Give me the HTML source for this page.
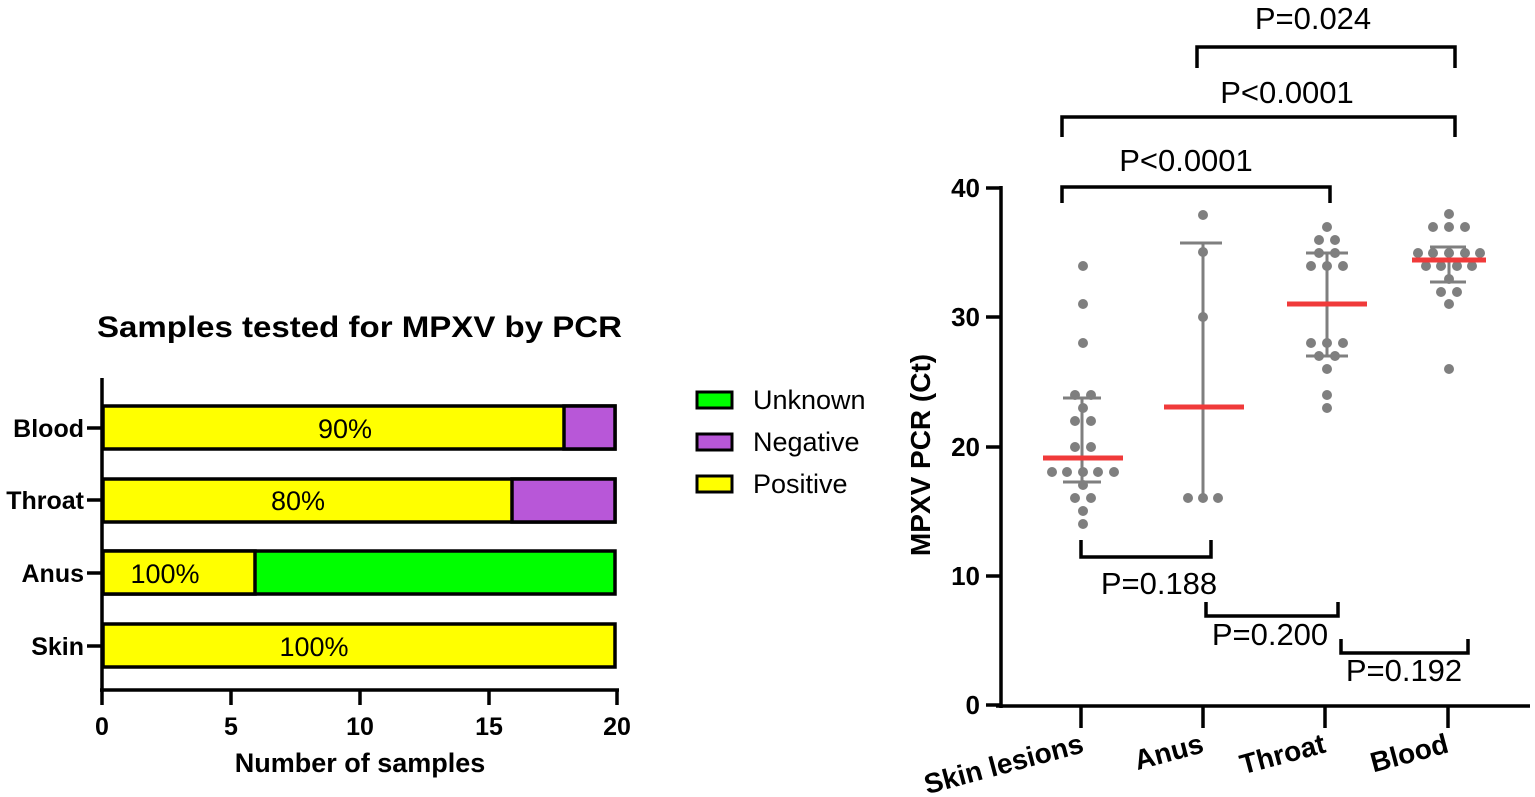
<!DOCTYPE html>
<html><head><meta charset="utf-8"><style>body{margin:0;background:#fff}svg{display:block}</style></head><body>
<svg width="1535" height="797" viewBox="0 0 1535 797" font-family="Liberation Sans, Arial, sans-serif">
<!-- Left chart -->
<text x="97" y="337" font-size="30" font-weight="bold" textLength="525" lengthAdjust="spacingAndGlyphs">Samples tested for MPXV by PCR</text>
<g stroke="#000" stroke-width="3.5">
<rect x="103" y="406" width="512" height="43" fill="#ffff00"/>
<rect x="564" y="406" width="51" height="43" fill="#b857d8"/>
<rect x="103" y="479" width="512" height="43" fill="#ffff00"/>
<rect x="512" y="479" width="103" height="43" fill="#b857d8"/>
<rect x="103" y="551" width="512" height="43" fill="#00ff00"/>
<rect x="103" y="551" width="152" height="43" fill="#ffff00"/>
<rect x="103" y="624" width="512" height="43" fill="#ffff00"/>
<line x1="102" y1="378" x2="102" y2="692"/>
<line x1="100" y1="690" x2="619" y2="690"/>
<line x1="102" y1="690" x2="102" y2="705"/><line x1="231" y1="690" x2="231" y2="705"/><line x1="360" y1="690" x2="360" y2="705"/><line x1="489" y1="690" x2="489" y2="705"/><line x1="617" y1="690" x2="617" y2="705"/>
<line x1="87" y1="428" x2="102" y2="428"/><line x1="87" y1="500" x2="102" y2="500"/><line x1="87" y1="573" x2="102" y2="573"/><line x1="87" y1="646" x2="102" y2="646"/>
</g>
<g font-size="25" font-weight="bold" text-anchor="end">
<text x="84" y="437">Blood</text><text x="84" y="509">Throat</text><text x="84" y="582">Anus</text><text x="84" y="655">Skin</text>
</g>
<g font-size="27" text-anchor="middle">
<text x="345" y="438">90%</text><text x="298" y="510">80%</text><text x="165" y="583">100%</text><text x="314" y="656">100%</text>
</g>
<g font-size="25" font-weight="bold" text-anchor="middle">
<text x="102" y="735">0</text><text x="231" y="735">5</text><text x="360" y="735">10</text><text x="489" y="735">15</text><text x="617" y="735">20</text>
<text x="360" y="772" font-size="27">Number of samples</text>
</g>
<g stroke="#000" stroke-width="3">
<rect x="697" y="392" width="35" height="16" fill="#00ff00"/>
<rect x="697" y="434" width="35" height="16" fill="#b857d8"/>
<rect x="697" y="476" width="35" height="16" fill="#ffff00"/>
</g>
<g font-size="27"><text x="753" y="409">Unknown</text><text x="753" y="451">Negative</text><text x="753" y="493">Positive</text></g>

<!-- Right chart -->
<g stroke="#000" stroke-width="3.5" fill="none">
<line x1="1001" y1="186" x2="1001" y2="708"/>
<line x1="996" y1="706" x2="1530" y2="706"/>
<line x1="986" y1="188" x2="1001" y2="188"/><line x1="986" y1="317" x2="1001" y2="317"/><line x1="986" y1="447" x2="1001" y2="447"/><line x1="986" y1="576" x2="1001" y2="576"/><line x1="986" y1="705" x2="1001" y2="705"/>
<line x1="1081" y1="706" x2="1081" y2="728"/><line x1="1203" y1="706" x2="1203" y2="728"/><line x1="1325" y1="706" x2="1325" y2="728"/><line x1="1448" y1="706" x2="1448" y2="728"/>
<polyline points="1197,68 1197,47 1455,47 1455,68"/>
<polyline points="1062,137 1062,117 1455,117 1455,137"/>
<polyline points="1062,203 1062,187 1330,187 1330,203"/>
<polyline points="1081,540 1081,557 1211,557 1211,540"/>
<polyline points="1206,602 1206,616 1338,616 1338,602"/>
<polyline points="1341,639 1341,653 1468,653 1468,639"/>
</g>
<g font-size="31" text-anchor="middle">
<text x="1313" y="29">P=0.024</text><text x="1287" y="103">P&lt;0.0001</text><text x="1186" y="171">P&lt;0.0001</text>
<text x="1159" y="594">P=0.188</text><text x="1270" y="645">P=0.200</text><text x="1404" y="681">P=0.192</text>
</g>
<g font-size="26" font-weight="bold" text-anchor="end">
<text x="980" y="197">40</text><text x="980" y="326">30</text><text x="980" y="456">20</text><text x="980" y="585">10</text><text x="980" y="714">0</text>
</g>
<text transform="translate(930,455) rotate(-90)" font-size="28" font-weight="bold" text-anchor="middle">MPXV PCR (Ct)</text>
<g font-size="28" font-weight="bold" text-anchor="end">
<text transform="translate(1085,752) rotate(-15)">Skin lesions</text>
<text transform="translate(1205,752) rotate(-15)">Anus</text>
<text transform="translate(1327,752) rotate(-15)">Throat</text>
<text transform="translate(1450,752) rotate(-15)">Blood</text>
</g>
<!-- error bars -->
<g stroke="#7f7f7f" stroke-width="3">
<line x1="1082" y1="398" x2="1082" y2="482"/><line x1="1063" y1="398" x2="1101" y2="398"/><line x1="1063" y1="482" x2="1101" y2="482"/>
<line x1="1203" y1="243" x2="1203" y2="498"/><line x1="1180" y1="243" x2="1222" y2="243"/>
<line x1="1327" y1="253" x2="1327" y2="356"/><line x1="1306" y1="253" x2="1348" y2="253"/><line x1="1306" y1="356" x2="1348" y2="356"/>
<line x1="1449" y1="247" x2="1449" y2="282"/><line x1="1430" y1="247" x2="1466" y2="247"/><line x1="1430" y1="282" x2="1466" y2="282"/>
</g>
<g fill="#7f7f7f">
<circle cx="1083" cy="266" r="5"/><circle cx="1083" cy="304" r="5"/><circle cx="1083" cy="343" r="5"/>
<circle cx="1075" cy="395" r="5"/><circle cx="1091" cy="395" r="5"/><circle cx="1083" cy="408" r="5"/>
<circle cx="1075" cy="421" r="5"/><circle cx="1091" cy="421" r="5"/><circle cx="1075" cy="447" r="5"/><circle cx="1091" cy="447" r="5"/>
<circle cx="1052" cy="472" r="5"/><circle cx="1067" cy="472" r="5"/><circle cx="1083" cy="472" r="5"/><circle cx="1098" cy="472" r="5"/><circle cx="1114" cy="472" r="5"/>
<circle cx="1083" cy="485" r="5"/><circle cx="1075" cy="498" r="5"/><circle cx="1091" cy="498" r="5"/><circle cx="1083" cy="511" r="5"/><circle cx="1083" cy="524" r="5"/>
<circle cx="1203" cy="215" r="5"/><circle cx="1203" cy="252" r="5"/><circle cx="1203" cy="317" r="5"/>
<circle cx="1188" cy="498" r="5"/><circle cx="1203" cy="498" r="5"/><circle cx="1218" cy="498" r="5"/>
<circle cx="1327" cy="227" r="5"/><circle cx="1319" cy="240" r="5"/><circle cx="1335" cy="240" r="5"/>
<circle cx="1319" cy="253" r="5"/><circle cx="1335" cy="253" r="5"/>
<circle cx="1311" cy="266" r="5"/><circle cx="1327" cy="266" r="5"/><circle cx="1343" cy="266" r="5"/>
<circle cx="1311" cy="343" r="5"/><circle cx="1327" cy="343" r="5"/><circle cx="1343" cy="343" r="5"/>
<circle cx="1319" cy="356" r="5"/><circle cx="1335" cy="356" r="5"/><circle cx="1327" cy="369" r="5"/><circle cx="1327" cy="395" r="5"/><circle cx="1327" cy="408" r="5"/>
<circle cx="1449" cy="214" r="5"/><circle cx="1433" cy="227" r="5"/><circle cx="1449" cy="227" r="5"/><circle cx="1465" cy="227" r="5"/>
<circle cx="1418" cy="253" r="5"/><circle cx="1433" cy="253" r="5"/><circle cx="1449" cy="253" r="5"/><circle cx="1465" cy="253" r="5"/><circle cx="1480" cy="253" r="5"/>
<circle cx="1426" cy="266" r="5"/><circle cx="1441" cy="266" r="5"/><circle cx="1457" cy="266" r="5"/><circle cx="1472" cy="266" r="5"/><circle cx="1449" cy="279" r="5"/>
<circle cx="1441" cy="292" r="5"/><circle cx="1457" cy="292" r="5"/><circle cx="1449" cy="304" r="5"/><circle cx="1449" cy="369" r="5"/>
</g>
<g stroke="#f03a3a" stroke-width="5">
<line x1="1043" y1="458" x2="1123" y2="458"/>
<line x1="1164" y1="407" x2="1244" y2="407"/>
<line x1="1287" y1="304" x2="1367" y2="304"/>
<line x1="1412" y1="260" x2="1486" y2="260"/>
</g>
</svg>
</body></html>
